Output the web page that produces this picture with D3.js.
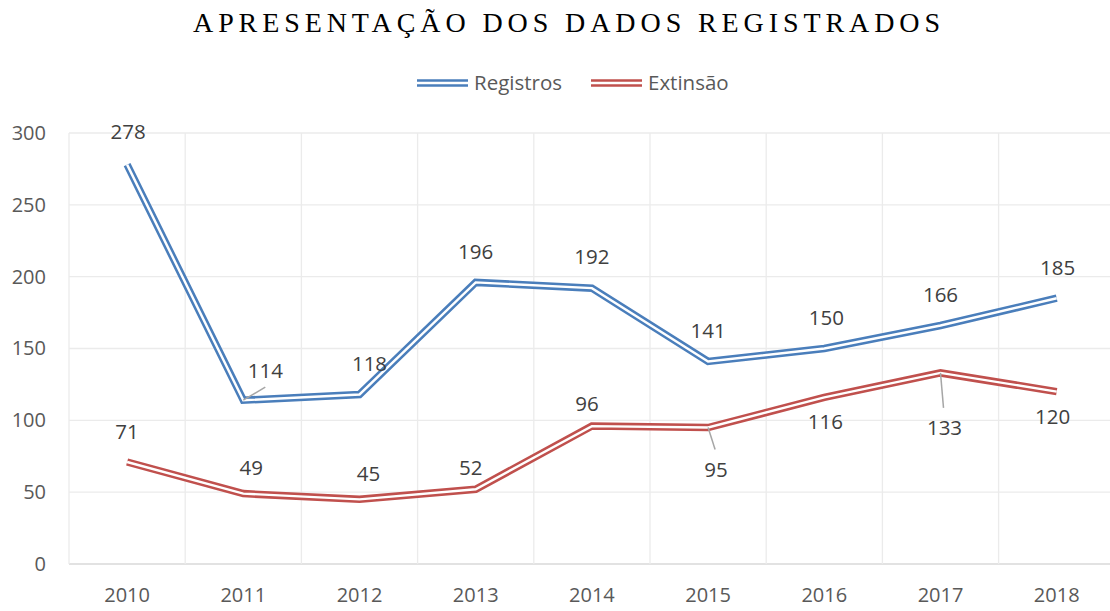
<!DOCTYPE html>
<html>
<head>
<meta charset="utf-8">
<script src="https://cdn.jsdelivr.net/npm/d3@7"></script>
<style>
  body { margin: 0; background: #fff; }
  svg { display: block; }
</style>
</head>
<body>
<div id="chart"></div>
<script>
// data
var years = ["2010", "2011", "2012", "2013", "2014", "2015", "2016", "2017", "2018"];
var registros = [278, 114, 118, 196, 192, 141, 150, 166, 185];
var extinsao = [71, 49, 45, 52, 96, 95, 116, 133, 120];
var yTicks = [0, 50, 100, 150, 200, 250, 300];

// label placement (dx, dy from the point), leader lines where labels were moved
var regLabelNudge = [[1, -33], [22, -30], [10, -31], [0, -31], [0, -32], [0, -31], [2, -31], [0, -31], [1, -31]];
var extLabelNudge = [[0, -30], [8, -26], [9, -26], [-5, -22], [-5, -22], [8, 42], [1, 24], [4, 55], [-4, 25]];
var regLeader = [false, true, false, false, false, false, false, false, false];
var extLeader = [false, false, false, false, false, true, false, true, false];

var width = 1110, height = 611;
var plotLeft = 69, plotTop = 133, plotBottom = 564, plotRight = 69 + 9 * 116.2;

var svg = d3.select("#chart").append("svg")
  .attr("width", width)
  .attr("height", height);

var x = d3.scaleBand().domain(years).range([plotLeft, plotRight]);
var y = d3.scaleLinear().domain([0, 300]).range([plotBottom, plotTop]);

// title
svg.append("text")
  .attr("x", 193)
  .attr("y", 32)
  .attr("textLength", 747)
  .attr("lengthAdjust", "spacing")
  .style("font-family", "'Liberation Serif', 'Times New Roman', serif")
  .style("font-size", "28px")
  .style("fill", "#000")
  .text("APRESENTAÇÃO DOS DADOS REGISTRADOS");

// gridlines
var grid = svg.append("g");
yTicks.forEach(function(t) {
  grid.append("line")
    .attr("x1", plotLeft).attr("x2", plotRight)
    .attr("y1", y(t)).attr("y2", y(t))
    .style("stroke", t === 0 ? "#d9d9d9" : "#ebebeb")
    .style("stroke-width", 1.3);
});
years.forEach(function(yr) {
  grid.append("line")
    .attr("x1", x(yr)).attr("x2", x(yr))
    .attr("y1", plotTop).attr("y2", plotBottom)
    .style("stroke", "#ebebeb")
    .style("stroke-width", 1.3);
});

// axes
var yAxis = d3.axisLeft(y).tickValues(yTicks).tickSize(0).tickPadding(23);
svg.append("g")
  .attr("transform", "translate(" + plotLeft + ",0)")
  .call(yAxis)
  .call(function(g) { g.select(".domain").remove(); })
  .selectAll("text")
  .style("font-family", "'Open Sans', sans-serif")
  .style("font-size", "20px")
  .style("fill", "#595959");

var xAxis = d3.axisBottom(x).tickSize(0).tickPadding(24);
svg.append("g")
  .attr("transform", "translate(0," + plotBottom + ")")
  .call(xAxis)
  .call(function(g) { g.select(".domain").remove(); })
  .selectAll("text")
  .style("font-family", "'Open Sans', sans-serif")
  .style("font-size", "20px")
  .style("fill", "#595959");

var line = d3.line()
  .x(function(d, i) { return x(years[i]) + x.bandwidth() / 2; })
  .y(function(d) { return y(d); });

function doubleLine(values, color) {
  svg.append("path")
    .attr("d", line(values))
    .style("fill", "none")
    .style("stroke", color)
    .style("stroke-width", 7.5)
    .style("stroke-linejoin", "miter");
  svg.append("path")
    .attr("d", line(values))
    .style("fill", "none")
    .style("stroke", "#fff")
    .style("stroke-width", 2.4)
    .style("stroke-linejoin", "miter");
}

function labels(values, nudge, leader) {
  values.forEach(function(v, i) {
    var px = x(years[i]) + x.bandwidth() / 2;
    var py = y(v);
    var lx = px + nudge[i][0];
    var ly = py + nudge[i][1];
    if (leader[i]) {
      var up = nudge[i][1] < 0;
      svg.append("line")
        .attr("x1", px).attr("y1", py)
        .attr("x2", up ? lx : lx - 1)
        .attr("y2", up ? ly + 17 : ly - 20)
        .style("stroke", "#a6a6a6")
        .style("stroke-width", 1.5);
    }
    svg.append("text")
      .attr("x", lx)
      .attr("y", ly)
      .attr("dy", "0.36em")
      .style("text-anchor", "middle")
      .style("font-family", "'Open Sans', sans-serif")
      .style("font-size", "20.5px")
      .style("fill", "#404040")
      .text(v);
  });
}

doubleLine(registros, "#4a7ebb");
doubleLine(extinsao, "#c0504d");
labels(registros, regLabelNudge, regLeader);
labels(extinsao, extLabelNudge, extLeader);

// legend
var legendItems = [
  { name: "Registros", color: "#4a7ebb", x: 417 },
  { name: "Extinsão", color: "#c0504d", x: 591 }
];
legendItems.forEach(function(item) {
  svg.append("line")
    .attr("x1", item.x).attr("x2", item.x + 51)
    .attr("y1", 83).attr("y2", 83)
    .style("stroke", item.color)
    .style("stroke-width", 7.5);
  svg.append("line")
    .attr("x1", item.x).attr("x2", item.x + 51)
    .attr("y1", 83).attr("y2", 83)
    .style("stroke", "#fff")
    .style("stroke-width", 2.4);
  svg.append("text")
    .attr("x", item.x + 57)
    .attr("y", 83)
    .attr("dy", "0.36em")
    .style("font-family", "'Open Sans', sans-serif")
    .style("font-size", "20.5px")
    .style("fill", "#595959")
    .text(item.name);
});
</script>
</body>
</html>
